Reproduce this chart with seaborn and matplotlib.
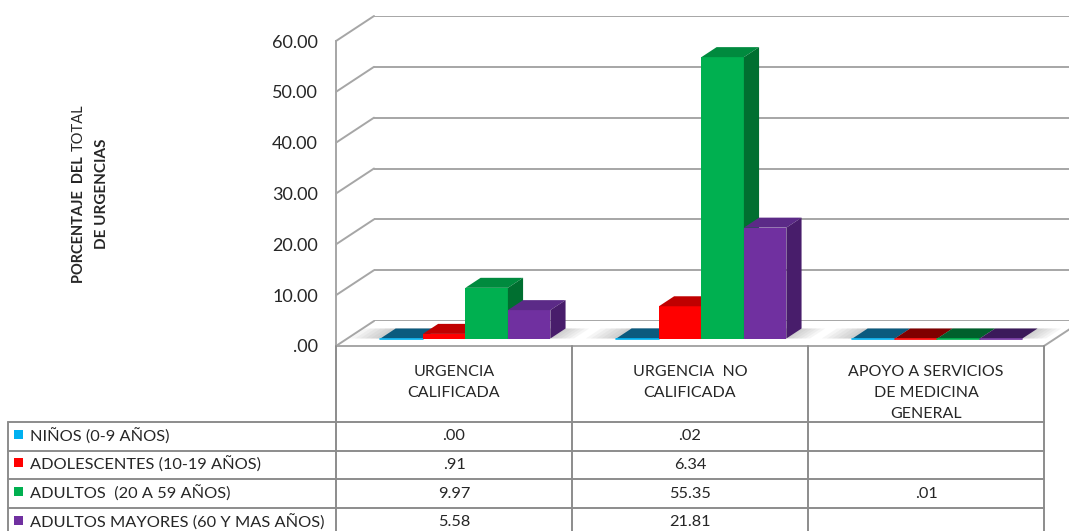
import pandas as pd
import matplotlib
matplotlib.use("Agg")
import matplotlib.pyplot as plt
import seaborn as sns
from matplotlib.patches import Polygon, Rectangle

# categories (x axis / table header)
categorias = ["URGENCIA\nCALIFICADA", "URGENCIA  NO\nCALIFICADA",
              "APOYO A SERVICIOS\nDE MEDICINA\nGENERAL"]
# series (legend / table rows)
grupos = ["NIÑOS (0-9 AÑOS)", "ADOLESCENTES (10-19 AÑOS)",
          "ADULTOS  (20 A 59 AÑOS)", "ADULTOS MAYORES (60 Y MAS AÑOS)"]
ninos = [0.00, 0.02, None]
adolescentes = [0.91, 6.34, None]
adultos = [9.97, 55.35, 0.01]
adultos_mayores = [5.58, 21.81, None]
y_ticks = [0, 10, 20, 30, 40, 50, 60]

colores = ["#00b0f0", "#ff0000", "#00b050", "#7030a0"]
colores_techo = ["#0b5a7e", "#c00000", "#008a3e", "#5b2a87"]
colores_techo_plano = ["#0b5a7e", "#7f0000", "#00602c", "#3b1a5a"]
colores_lado = ["#06445f", "#990000", "#006f30", "#481d6b"]
gris = "#a6a6a6"
gris_tabla = "#8c8c8c"

series = [ninos, adolescentes, adultos, adultos_mayores]
df = pd.DataFrame({
    "categoria": [c for _ in grupos for c in categorias],
    "grupo": [g for g in grupos for _ in categorias],
    "porcentaje": [v for s in series for v in s],
})
df["altura"] = df["porcentaje"].fillna(0.0)


def fmt(v):
    return "" if v is None or pd.isna(v) else f"{v:.2f}".lstrip("0")


sns.set_style("white")
plt.rcParams["font.family"] = ["Lato", "DejaVu Sans"]

W, H = 1069, 531
fig = plt.figure(figsize=(W / 100, H / 100), dpi=100)

# pseudo 3D geometry (pixels)
left, right = 336, 1044
y0_front, alto = 346, 305
prof_x, prof_y = 38, 25          # full depth of the box
pos_barra, prof_barra = 0.3, 0.4  # bars sit inside the depth


def plano(frac):
    x = left + frac * prof_x
    y = y0_front - frac * prof_y
    return fig.add_axes([x / W, (H - y) / H, (right - left) / W, alto / H])


# back wall with gridlines
ax_b = plano(1.0)
ax_b.set_xlim(-0.5, 2.5)
ax_b.set_ylim(0, 60)
ax_b.set_yticks(y_ticks)
ax_b.set_xticks([])
ax_b.yaxis.grid(True, color=gris, lw=1.4)
ax_b.tick_params(axis="y", length=0, labelleft=False)
sns.despine(ax=ax_b, left=True, bottom=True)

# front plane: axis line, floor edge, tick labels
ax_f = plano(0.0)
ax_f.patch.set_visible(False)
ax_f.set_xlim(-0.5, 2.5)
ax_f.set_ylim(0, 60)
ax_f.set_yticks(y_ticks, labels=[fmt(v) for v in y_ticks])
ax_f.set_xticks(range(len(categorias)), labels=categorias)
ax_f.tick_params(axis="y", length=0, pad=13, labelsize=13)
ax_f.tick_params(axis="x", length=0, pad=14, labelsize=11.5)
for lbl in ax_f.get_xticklabels():
    lbl.set_linespacing(1.62)
for s in ["top", "right"]:
    ax_f.spines[s].set_visible(False)
for s in ["left", "bottom"]:
    ax_f.spines[s].set_color(gris)
    ax_f.spines[s].set_linewidth(1.4)

# bar plane
ax = plano(pos_barra)
ax.patch.set_visible(False)
sns.barplot(data=df, x="categoria", y="altura", hue="grupo", order=categorias,
            hue_order=grupos, palette=colores, width=0.72, saturation=1,
            linewidth=0, legend=False, ax=ax)
ax.set_xlim(-0.5, 2.5)
ax.set_ylim(0, 60)
ax.set_axis_off()

sx = 3 / (right - left)
sy = 60 / alto


def desplaz(frac):
    d = frac - pos_barra
    return d * prof_x * sx, d * prof_y * sy


# left wall diagonals and right floor edge
fdx, fdy = desplaz(0.0)
bdx, bdy = desplaz(1.0)
for v in y_ticks:
    ax.plot([-0.5 + fdx, -0.5 + bdx], [v + fdy, v + bdy], color=gris, lw=1.4,
            clip_on=False, zorder=1)
ax.plot([2.5 + fdx, 2.5 + bdx], [fdy, bdy], color=gris, lw=1.4,
        clip_on=False, zorder=1)

ddx, ddy = prof_barra * prof_x * sx, prof_barra * prof_y * sy
barras = sorted(ax.patches, key=lambda p: p.get_x())

# soft floor shadow under each group of bars
n = len(grupos)
for c in range(len(categorias)):
    grupo_b = barras[c * n:(c + 1) * n]
    xa = grupo_b[0].get_x()
    xb = grupo_b[-1].get_x() + grupo_b[-1].get_width()
    for j in range(6):
        ext_l = 0.02 + 0.022 * j
        ext_r = 0.01 + 0.018 * j
        ax.add_patch(Polygon([(xa - ext_l, 0), (xb + ext_r, 0),
                              (xb + ext_r + ddx, ddy), (xa - ext_l + ddx, ddy)],
                             closed=True, facecolor="#7f7f7f", alpha=0.07,
                             edgecolor="none", clip_on=False, zorder=2))

# 3D faces of the bars
for k, p in enumerate(barras):
    i = k % n
    x0, w, h = p.get_x(), p.get_width(), p.get_height()
    z = 3 + k * 0.1
    p.set_zorder(z)
    plana = h < 0.5
    techo = colores_techo_plano[i] if plana else colores_techo[i]
    ax.add_patch(Polygon([(x0, h), (x0 + w, h), (x0 + w + ddx, h + ddy),
                          (x0 + ddx, h + ddy)], closed=True, facecolor=techo,
                         edgecolor="none", clip_on=False, zorder=z + 0.05))
    if plana:
        ax.plot([x0, x0 + w], [0, 0], color=colores[i], lw=1.2,
                clip_on=False, zorder=z + 0.06)
    else:
        ax.add_patch(Polygon([(x0 + w, 0), (x0 + w, h),
                              (x0 + w + ddx, h + ddy), (x0 + w + ddx, ddy)],
                             closed=True, facecolor=colores_lado[i],
                             edgecolor="none", clip_on=False, zorder=z + 0.05))

# data table and axis title (pixel coordinates)
ax_t = fig.add_axes([0, 0, 1, 1])
ax_t.set_xlim(0, W)
ax_t.set_ylim(H, 0)
ax_t.set_axis_off()
ax_t.patch.set_visible(False)

col_edges = [8, 336, 572, 808, 1044]
row_edges = [422, 451, 479, 508, 537]
for x in col_edges[1:]:
    ax_t.plot([x, x], [y0_front, H], color=gris_tabla, lw=1.4)
ax_t.plot([col_edges[0], col_edges[0]], [row_edges[0], H], color=gris_tabla, lw=1.4)
for y in row_edges:
    ax_t.plot([col_edges[0], col_edges[-1]], [y, y], color=gris_tabla, lw=1.4)

for r, (g, s) in enumerate(zip(grupos, series)):
    yc = (row_edges[r] + row_edges[r + 1]) / 2
    ax_t.add_patch(Rectangle((14, yc - 7), 9, 9, facecolor=colores[r],
                             edgecolor="none"))
    ax_t.text(30, yc, g, ha="left", va="center", fontsize=11.8)
    for c, v in enumerate(s):
        xc = (col_edges[c + 1] + col_edges[c + 2]) / 2
        ax_t.text(xc, yc, fmt(v), ha="center", va="center", fontsize=11.8)

t1 = ax_t.text(79, 283, "PORCENTAJE  DEL", rotation=90, rotation_mode="anchor",
               ha="left", va="center", fontsize=10.5, fontweight="bold")
fig.canvas.draw()
bb = t1.get_window_extent()
y_fin = H - bb.y1 - 5
ax_t.text(79, y_fin, "TOTAL", rotation=90, rotation_mode="anchor",
          ha="left", va="center", fontsize=10.5)
ax_t.text(102, 194, "DE URGENCIAS", rotation=90, ha="center", va="center",
          fontsize=11, fontweight="bold")

fig.savefig("out.png", dpi=100)
